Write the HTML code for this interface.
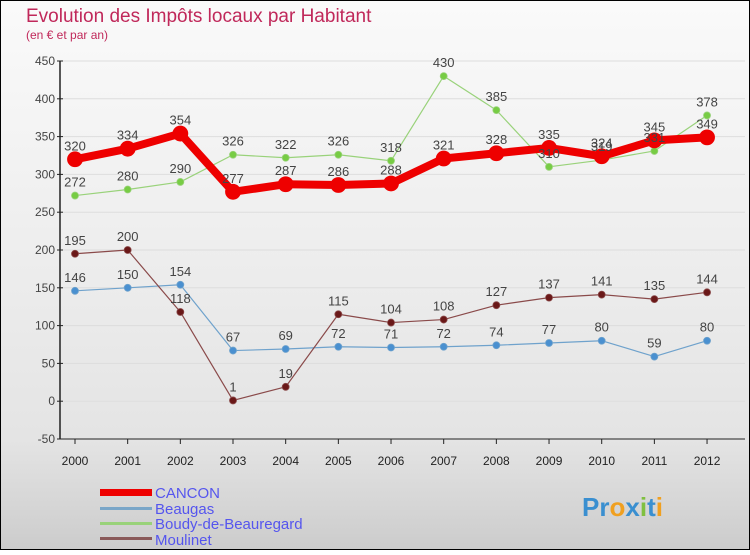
<!DOCTYPE html>
<html><head><meta charset="utf-8"><style>
body{margin:0;width:750px;height:550px;overflow:hidden;font-family:"Liberation Sans","DejaVu Sans",sans-serif}
</style></head><body>
<svg width="750" height="550" xmlns="http://www.w3.org/2000/svg">
<defs>
<linearGradient id="bg" x1="0" y1="0" x2="0" y2="1"><stop offset="0" stop-color="#fafafa"/><stop offset="0.8" stop-color="#e4e4e4"/><stop offset="1" stop-color="#cccccc"/></linearGradient>
</defs>
<rect x="0.5" y="0.5" width="749" height="549" fill="url(#bg)" stroke="#000"/>
<text x="26" y="22" font-size="19" fill="#c0285a">Evolution des Impôts locaux par Habitant</text>
<text x="26" y="39" font-size="12" fill="#c0285a">(en € et par an)</text>
<g id="grid"></g><g id="axes"></g><g id="series"></g><g id="labels"></g>
<g font-size="15" fill="#5555ee">
<rect x="100" y="489" width="52" height="7" fill="#e00"/>
<text x="155" y="498">CANCON</text>
<rect x="100" y="507" width="52" height="3" fill="#7aa6c8"/>
<text x="155" y="514">Beaugas</text>
<rect x="100" y="522" width="52" height="3" fill="#99d27a"/>
<text x="155" y="529">Boudy-de-Beauregard</text>
<rect x="100" y="537" width="52" height="3" fill="#8a5a5a"/>
<text x="155" y="545">Moulinet</text>
</g>
<g font-size="26" font-weight="bold">
<text x="582" y="516"><tspan fill="#3a8fd0">Pr</tspan><tspan fill="#f0a020">o</tspan><tspan fill="#3a8fd0">x</tspan><tspan fill="#80c040">i</tspan><tspan fill="#3a8fd0">t</tspan><tspan fill="#f0a020">i</tspan></text>
</g>
</svg>
<script>
const years=[2000,2001,2002,2003,2004,2005,2006,2007,2008,2009,2010,2011,2012];
const cancon=[320,334,354,277,287,286,288,321,328,335,324,345,349];
const beaugas=[146,150,154,67,69,72,71,72,74,77,80,59,80];
const boudy=[272,280,290,326,322,326,318,430,385,310,319,331,378];
const moulinet=[195,200,118,1,19,115,104,108,127,137,141,135,144];
const yTicks=[-50,0,50,100,150,200,250,300,350,400,450];
const NS="http://www.w3.org/2000/svg";
const X=i=>75+i*52.67;
const Y=v=>401.2-v*0.756;
function mk(tag,attrs,parent){const e=document.createElementNS(NS,tag);for(const k in attrs)e.setAttribute(k,attrs[k]);document.getElementById(parent).appendChild(e);return e;}
yTicks.forEach(t=>{
 const g=mk('line',{x1:60,x2:745,y1:Y(t),y2:Y(t),stroke:'#ddd','stroke-width':1},'grid');
 
 
 const tk=mk('line',{x1:57,x2:63,y1:Y(t),y2:Y(t),stroke:'#222'},'axes');
 
 
 const l=mk('text',{x:55,y:Y(t)+4,'text-anchor':'end','font-size':12,fill:'#444'},'axes');
 l.textContent=t;
 
 
});
const ax=mk('line',{x1:60,x2:60,y1:Y(450),y2:Y(-50),stroke:'#222','stroke-width':1.5},'axes');


const bx=mk('line',{x1:60,x2:745,y1:Y(-50),y2:Y(-50),stroke:'#222'},'axes');


years.forEach((y,i)=>{
 const tk=mk('line',{x1:X(i),x2:X(i),y1:Y(-50),y2:Y(-50)+5,stroke:'#222'},'axes');
 
 
 const l=mk('text',{x:X(i),y:465,'text-anchor':'middle','font-size':12,fill:'#222'},'axes');
 l.textContent=y;
 
 
});
function series(data,color,dot,w,r,name){
 const p=mk('polyline',{points:data.map((v,i)=>X(i)+','+Y(v)).join(' '),fill:'none',stroke:color,'stroke-width':w,'stroke-linejoin':'round'},'series');
 
 
 data.forEach((v,i)=>{
  const c=mk('circle',{cx:X(i),cy:Y(v),r:r,fill:dot,stroke:color,'stroke-width':0.8},'series');
  
  
  const t=mk('text',{x:X(i),y:Y(v)-9,'text-anchor':'middle','font-size':13,fill:'#444'},'labels');
  t.textContent=v;
  
  
 });
}
series(beaugas,'#6fa2cc','#4a90d0',1.2,3.5,'beaugas');
series(boudy,'#99d27a','#77cc44',1.2,3.5,'boudy');
series(moulinet,'#8a4a4a','#6a1818',1.2,3.5,'moulinet');
series(cancon,'#ee0000','#ee0000',8,7.5,'cancon');
</script>
</body></html>
